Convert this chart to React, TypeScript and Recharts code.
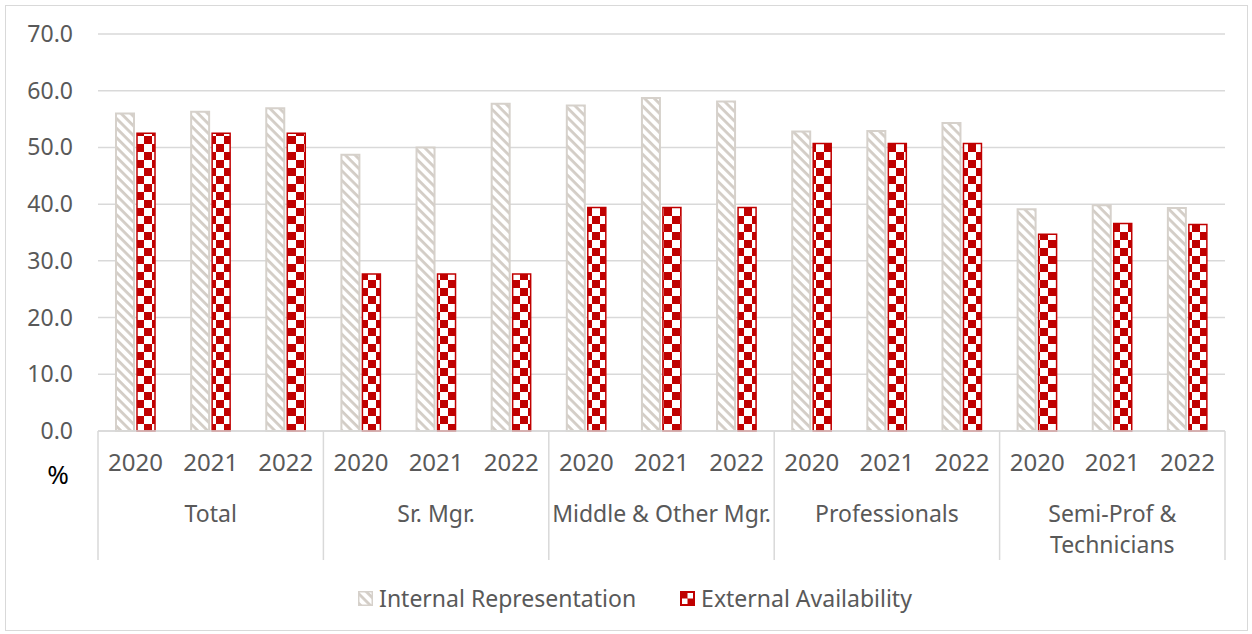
import React from 'react';
import { BarChart, Bar, XAxis, YAxis, CartesianGrid, Legend } from 'recharts';

const groups = ['Total', 'Sr. Mgr.', 'Middle & Other Mgr.', 'Professionals', 'Semi-Prof & Technicians'];
const years = ['2020', '2021', '2022'];
const internalRepresentation = [56.0, 56.3, 56.9, 48.7, 50.0, 57.7, 57.4, 58.7, 58.1, 52.8, 52.9, 54.3, 39.1, 39.8, 39.3];
const externalAvailability = [52.5, 52.5, 52.5, 27.7, 27.7, 27.7, 39.4, 39.4, 39.4, 50.7, 50.7, 50.7, 34.7, 36.6, 36.4];
const yTicks = [0, 10, 20, 30, 40, 50, 60, 70];
const seriesNames = ['Internal Representation', 'External Availability'];

const data = internalRepresentation.map((v, i) => ({
  key: String(i),
  year: years[i % 3],
  group: groups[Math.floor(i / 3)],
  internal: v,
  external: externalAvailability[i],
}));

const W = 1252;
const H = 634;
const M = { top: 34, right: 27, bottom: 0, left: 0 };
const YW = 98;
const PLOT_LEFT = M.left + YW;
const PLOT_W = W - M.right - PLOT_LEFT;
const BAND = PLOT_W / data.length;
const FONT = '"Noto Sans", sans-serif';
const TXT = '#595959';
const LINE = '#d9d9d9';

const XTick = (props: any) => {
  const { x, y, payload } = props;
  const i = payload.index;
  const half = BAND / 2;
  const els: any[] = [];
  els.push(
    <text key="y" x={x} y={y + 40} textAnchor="middle" fill={TXT} fontSize={24} fontFamily={FONT}>
      {data[i].year}
    </text>
  );
  if (i % 3 === 0) {
    els.push(<line key="l" x1={x - half} x2={x - half} y1={y} y2={y + 129} stroke={LINE} strokeWidth={1.5} />);
  }
  if (i === data.length - 1) {
    els.push(<line key="r" x1={x + half} x2={x + half} y1={y} y2={y + 129} stroke={LINE} strokeWidth={1.5} />);
  }
  if (i % 3 === 1) {
    const g = data[i].group;
    const lines = g === 'Semi-Prof & Technicians' ? ['Semi-Prof &', 'Technicians'] : [g];
    lines.forEach((t, k) => {
      els.push(
        <text key={'g' + k} x={x} y={y + 91 + k * 31} textAnchor="middle" fill={TXT} fontSize={23} fontFamily={FONT}>
          {t}
        </text>
      );
    });
  }
  if (i === 0) {
    els.push(
      <text key="pct" x={PLOT_LEFT - 40} y={y + 53} textAnchor="middle" fill="#000" fontSize={26} fontFamily={FONT}>
        %
      </text>
    );
  }
  return <g>{els}</g>;
};

const YTick = (props: any) => {
  const { y, payload } = props;
  return (
    <text x={73} y={y + 8} textAnchor="end" fill={TXT} fontSize={23} fontFamily={FONT}>
      {Number(payload.value).toFixed(1)}
    </text>
  );
};

const LegendContent = () => (
  <div style={{ display: 'flex', justifyContent: 'center', alignItems: 'center', height: 40, fontFamily: FONT, fontSize: 23, color: TXT, paddingLeft: 18 }}>
    <div style={{ display: 'flex', alignItems: 'center', marginRight: 44 }}>
      <svg width={15} height={15} style={{ marginRight: 6 }}>
        <rect x={0.75} y={0.75} width={13.5} height={13.5} fill="url(#stripes)" stroke="#d6d1cb" strokeWidth={1.5} />
      </svg>
      <span>{seriesNames[0]}</span>
    </div>
    <div style={{ display: 'flex', alignItems: 'center' }}>
      <svg width={15} height={15} style={{ marginRight: 6 }}>
        <rect x={0} y={0} width={15} height={15} fill="#c00000" />
        <rect x={7.5} y={2} width={5.5} height={5.5} fill="#fff" />
        <rect x={2} y={7.5} width={5.5} height={5.5} fill="#fff" />
      </svg>
      <span>{seriesNames[1]}</span>
    </div>
  </div>
);

export default function App() {
  return (
    <div style={{ position: 'absolute', left: 0, top: 0, width: W, height: H, background: '#fff' }}>
      <div style={{ position: 'absolute', left: 5, top: 5, width: 1241, height: 624, border: '1.5px solid #d9d9d9' }} />
      <BarChart width={W} height={H} data={data} margin={M} barSize={18} barGap={3}>
        <defs>
          <pattern id="stripes" patternUnits="userSpaceOnUse" width={6.8} height={6.8} patternTransform="rotate(45)">
            <rect x={0} y={0} width={6.8} height={6.8} fill="#fff" />
            <rect x={0} y={0} width={6.8} height={2.8} fill="#d3cdc6" />
          </pattern>
          <pattern id="checker" patternUnits="userSpaceOnUse" width={16} height={16}>
            <rect x={0} y={0} width={16} height={16} fill="#c00000" />
            <rect x={0} y={0} width={8} height={8} fill="#fff" />
            <rect x={8} y={8} width={8} height={8} fill="#fff" />
          </pattern>
        </defs>
        <CartesianGrid vertical={false} stroke={LINE} strokeWidth={1.5} />
        <XAxis
          dataKey="key"
          height={H - 431 - 40}
          interval={0}
          tickLine={false}
          tickSize={0}
          tickMargin={0}
          axisLine={{ stroke: LINE, strokeWidth: 1.5 }}
          tick={<XTick />}
        />
        <YAxis
          width={YW}
          domain={[0, 70]}
          ticks={yTicks}
          axisLine={false}
          tickLine={false}
          tick={<YTick />}
        />
        <Legend verticalAlign="bottom" height={40} content={<LegendContent />} wrapperStyle={{ height: 40, top: 578, left: 0, width: W }} />
        <Bar dataKey="internal" name={seriesNames[0]} fill="url(#stripes)" stroke="#d6d1cb" strokeWidth={2} isAnimationActive={false} />
        <Bar dataKey="external" name={seriesNames[1]} fill="url(#checker)" stroke="#c00000" strokeWidth={1.5} isAnimationActive={false} />
      </BarChart>
    </div>
  );
}
